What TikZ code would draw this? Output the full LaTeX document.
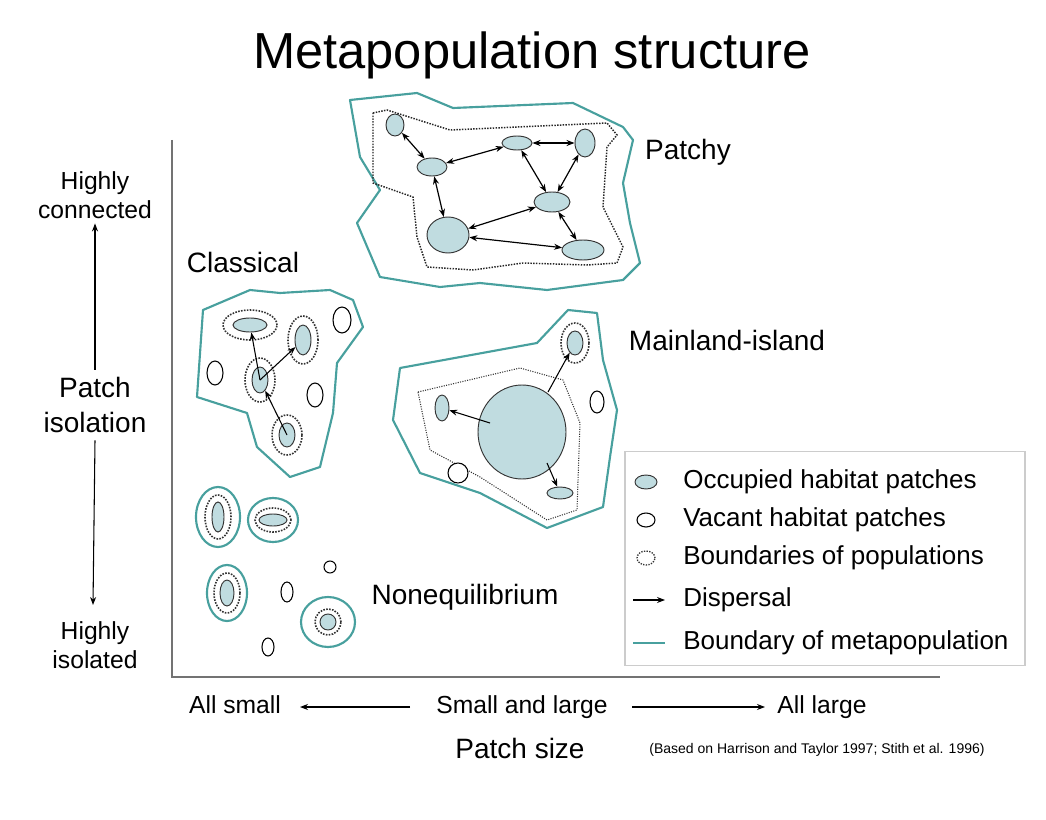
\documentclass[tikz,border=0pt]{standalone}
\usepackage{fontspec}
\setmainfont{Liberation Sans}
\usetikzlibrary{arrows.meta,shapes.geometric}
\definecolor{teal1}{RGB}{72,160,158}
\definecolor{patch}{RGB}{192,220,224}
\begin{document}
\begin{tikzpicture}[x=0.75pt,y=-0.75pt,
  sz/.style 2 args={ellipse,inner sep=0,minimum width=#1*0.75pt,minimum height=#2*0.75pt},
  meta/.style={draw=teal1,line width=1.6pt,line join=round},
  inner/.style={draw=black!85,densely dotted,line width=1.1pt},
  innerl/.style={draw=black!80,densely dotted,line width=0.8pt},
  occ/.style={draw=black!80,fill=patch,line width=0.7pt},
  vac/.style={draw=black,fill=white,line width=0.8pt},
  ring/.style={draw=black!80,densely dotted,line width=1.2pt},
  disp/.style={-{Stealth[length=6pt,width=4.5pt]},line width=0.8pt},
  ddisp/.style={{Stealth[length=6pt,width=4.5pt]}-{Stealth[length=6pt,width=4.5pt]},line width=0.9pt},
  lab/.style={font=\fontsize{21}{22}\selectfont},
  axl/.style={font=\fontsize{18.5}{22}\selectfont,align=center}]
\useasboundingbox (0,0) rectangle (1046,820);
\node (title) at (532,55) {\fontsize{38}{42}\selectfont Metapopulation structure};
% axes
\draw[black!55,line width=1.2pt] (172,140) -- (172,677) -- (940,677);
\node[axl] (hc) at (95,195) {Highly\\connected};
\node[font=\fontsize{21}{26}\selectfont,align=center] (pi) at (95,405) {Patch\\isolation};
\node[axl] (hi) at (95,645) {Highly\\isolated};
\draw[disp] (pi.north) ++(0,-3) coordinate (pin) (pin) -- (hc.south);
\draw[disp] (pi.south) ++(0,3) coordinate (pis) (pis) -- (93,605);
\node[axl] (as) at (235,705) {All small};
\node[axl] (sl) at (522,707) {Small and large};
\node[axl] (al) at (822,707) {All large};
\coordinate (ls) at (410,707); \coordinate (le) at (300,707);
\coordinate (rs) at (632,707); \coordinate (re) at (765,707);
\draw[disp] (ls) -- (le);
\draw[disp] (rs) -- (re);
\node[font=\fontsize{21}{24}\selectfont] (ps) at (520,748) {Patch size};
\node[font=\fontsize{10.5}{12}\selectfont] (ref) at (817,750) {(Based on Harrison and Taylor 1997; Stith et al. 1996)};
% labels
\node[lab] (lpatchy) at (688,152) {Patchy};
\node[lab] (lclass) at (243,262) {Classical};
\node[lab] (lmain) at (727,340) {Mainland-island};
\node[lab] (lnon) at (465,597) {Nonequilibrium};
% Patchy
\draw[meta] (350,100) -- (417,93) -- (453,108) -- (573,103) -- (623,127) -- (633,140) -- (623,183) -- (630,223) -- (640,263) -- (623,280) -- (547,290) -- (480,283) -- (440,287) -- (380,277) -- (357,223) -- (380,190) -- (360,157) -- cycle;
\draw[inner] (373,113) -- (387,110) -- (450,130) -- (607,123) -- (617,135) -- (607,147) -- (603,207) -- (623,247) -- (617,263) -- (587,265) -- (523,263) -- (473,270) -- (427,267) -- (417,237) -- (413,197) -- (373,183) -- cycle;
\foreach \n/\x/\y/\w/\h in {pa/395/125/18/22, pb/432/167/30/18, pc/517/143/30/14, pd/585/143/20/28, pe/552/202/36/20, pf/448/235/42/36, pg/583/250/42/20}
  \node[occ,sz={\w}{\h}] (\n) at (\x,\y) {};
\foreach \a/\b in {pa/pb,pb/pc,pc/pd,pc/pe,pd/pe,pb/pf,pe/pf,pf/pg,pe/pg}
  \draw[ddisp] (\a) -- (\b);
% Classical
\draw[meta] (203,310) -- (250,290) -- (280,293) -- (330,290) -- (353,300) -- (363,327) -- (337,363) -- (333,413) -- (320,467) -- (290,477) -- (257,447) -- (247,413) -- (197,397) -- cycle;
\foreach \n/\x/\y/\w/\h/\rw/\rh in {c1/250/325/34/14/54/30, c2/303/340/16/30/30/48, c3/260/380/16/26/30/44, c4/287/435/16/24/30/40} {
  \node[ring,sz={\rw}{\rh}] (\n r) at (\x,\y) {};
  \node[occ,sz={\w}{\h}] (\n) at (\x,\y) {};
}
\foreach \n/\x/\y/\w/\h in {cv1/342/320/18/26, cv2/215/373/16/24, cv3/315/395/16/24}
  \node[vac,sz={\w}{\h}] (\n) at (\x,\y) {};
\draw[disp] (c3.center) -- (c1);
\draw[disp] (c3.center) -- (c2);
\draw[disp] (c4.center) -- (c3);
% Mainland-island
\draw[meta] (400,368) -- (537,343) -- (568,310) -- (597,313) -- (603,360) -- (617,410) -- (610,457) -- (603,507) -- (547,528) -- (480,493) -- (420,473) -- (393,420) -- cycle;
\draw[innerl] (418,392) -- (520,368) -- (563,380) -- (580,423) -- (577,510) -- (547,520) -- (480,477) -- (430,450) -- cycle;
\node[occ,sz={88}{94}] (ml) at (522,432) {};
\node[occ,sz={14}{26}] (m1) at (442,408) {};
\node[ring,sz={28}{40}] (m2r) at (575,343) {};
\node[occ,sz={16}{24}] (m2) at (575,343) {};
\node[occ,sz={26}{12}] (m3) at (560,493) {};
\node[vac,sz={14}{22}] (mv1) at (597,402) {};
\node[vac,sz={20}{20}] (mv2) at (458,473) {};
\coordinate (ms1) at (490,423); \coordinate (ms2) at (548,392); \coordinate (ms3) at (547,463);
\draw[disp] (ms1) -- (m1);
\draw[disp] (ms2) -- (m2);
\draw[disp] (ms3) -- (m3);
% Nonequilibrium
\foreach \n/\x/\y/\tw/\th/\rw/\rh/\w/\h in {n1/218/517/44/60/26/44/12/30, n2/273/520/50/44/36/24/28/12, n3/227/593/40/56/26/40/14/26, n4/328/622/54/50/26/26/16/16} {
  \node[meta,sz={\tw}{\th}] (\n t) at (\x,\y) {};
  \node[ring,sz={\rw}{\rh}] (\n r) at (\x,\y) {};
  \node[occ,sz={\w}{\h}] (\n) at (\x,\y) {};
}
\foreach \n/\x/\y/\w/\h in {nv1/330/567/12/12, nv2/287/592/12/20, nv3/268/647/12/18}
  \node[vac,sz={\w}{\h}] (\n) at (\x,\y) {};
% Legend
\node[draw=black!20,line width=0.8pt,rectangle,inner sep=0,minimum width=300pt,minimum height=160pt] (leg) at (825,558.5) {};
\node[occ,sz={22}{14}] (l1) at (646,482) {};
\node[vac,sz={18}{14}] (l2) at (646,520) {};
\node[ring,line width=1pt,sz={18}{14}] (l3) at (646,558) {};
\coordinate (l4a) at (633,600); \coordinate (l4b) at (665,600);
\coordinate (l5a) at (633,643); \coordinate (l5b) at (665,643);
\draw[disp] (l4a) -- (l4b);
\draw[teal1,line width=1.4pt] (l5a) -- (l5b);
\foreach \y/\t [count=\i] in {482/Occupied habitat patches, 520/Vacant habitat patches, 558/Boundaries of populations, 600/Dispersal, 643/Boundary of metapopulation}
  \node[anchor=west,font=\fontsize{19.5}{22}\selectfont,inner sep=0] (lt\i) at (683,\y) {\t};
\end{tikzpicture}
\end{document}
